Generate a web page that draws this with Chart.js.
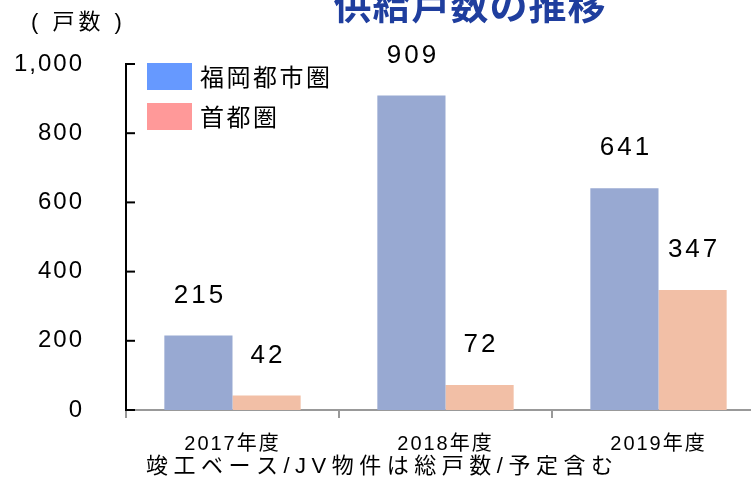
<!DOCTYPE html>
<html>
<head>
<meta charset="utf-8">
<script src="https://cdn.jsdelivr.net/npm/chart.js@4"></script>
<style>
  html, body { margin: 0; padding: 0; background: #fff; overflow: hidden; }
  #wrap { width: 770px; height: 479px; }
</style>
</head>
<body>
<div id="wrap"><canvas id="chart" width="770" height="479"></canvas></div>
<script>
// ---- data ----
var CATEGORIES = ["2017年度", "2018年度", "2019年度"];
var SERIES_NAMES = ["福岡都市圏", "首都圏"];
var FUKUOKA = [215, 909, 641];
var SHUTOKEN = [42, 72, 347];
var Y_TICKS = [0, 200, 400, 600, 800, 1000];

var TITLE = "供給戸数の推移";
var UNIT = "( 戸数 )";
var NOTE = "竣工ベース/JV物件は総戸数/予定含む";

// ---- colors ----
var BAR_COLORS = ["#98A9D2", "#F2BFA6"];
var LEGEND_COLORS = ["#6699FF", "#FF9999"];

var SANS = "'Liberation Sans', 'Noto Sans CJK JP', sans-serif";
var CJK = "'Noto Sans CJK JP', 'Liberation Sans', sans-serif";

function drawText(ctx, txt, x, y, font, color, align, spacing) {
  ctx.save();
  ctx.font = font;
  ctx.fillStyle = color;
  ctx.textAlign = align || "left";
  ctx.textBaseline = "middle";
  ctx.letterSpacing = (spacing || 0) + "px";
  ctx.fillText(txt, x, y);
  ctx.restore();
}

var decorPlugin = {
  id: "decor",
  beforeDraw: function(chart) {
    // scale tick labels are slightly spaced in the reference
    chart.ctx.letterSpacing = "2px";
  },
  beforeDatasetsDraw: function(chart) {
    chart.ctx.letterSpacing = "0px";
  },
  afterDatasetsDraw: function(chart) {
    var ctx = chart.ctx;
    // value labels above the bars
    chart.data.datasets.forEach(function(ds, di) {
      var meta = chart.getDatasetMeta(di);
      meta.data.forEach(function(bar, i) {
        drawText(ctx, String(ds.data[i]), bar.x + 1.5, bar.y - 40,
          "26px " + SANS, "#000", "center", 3);
      });
    });
  },
  afterDraw: function(chart) {
    var ctx = chart.ctx;
    var y = chart.scales.y;
    var area = chart.chartArea;

    // inward tick marks on the y axis
    ctx.save();
    ctx.strokeStyle = "#000";
    ctx.lineWidth = 2;
    Y_TICKS.forEach(function(v) {
      var py = y.getPixelForValue(v);
      ctx.beginPath();
      ctx.moveTo(area.left, py);
      ctx.lineTo(area.left + 9, py);
      ctx.stroke();
    });
    ctx.restore();

    // legend
    SERIES_NAMES.forEach(function(name, i) {
      var top = 63 + i * 40;
      ctx.fillStyle = LEGEND_COLORS[i];
      ctx.fillRect(147, top, 45, 27);
      drawText(ctx, name, 200, top + 14, "24px " + CJK, "#000", "left", 2.5);
    });

    // title, unit, note
    ctx.save();
    ctx.font = "bold 38px " + CJK;
    ctx.fillStyle = "#1F3E9E";
    ctx.textAlign = "center";
    ctx.textBaseline = "alphabetic";
    ctx.letterSpacing = "1px";
    ctx.fillText(TITLE, 470, 19);
    ctx.restore();

    drawText(ctx, UNIT, 31, 23, "22px " + SANS, "#000", "left", 4);
    drawText(ctx, NOTE, 146, 467, "22px " + SANS, "#000", "left", 5.5);
  }
};

new Chart(document.getElementById("chart"), {
  type: "bar",
  data: {
    labels: CATEGORIES,
    datasets: [
      { label: SERIES_NAMES[0], data: FUKUOKA, backgroundColor: BAR_COLORS[0] },
      { label: SERIES_NAMES[1], data: SHUTOKEN, backgroundColor: BAR_COLORS[1] },
    ],
  },
  options: {
    responsive: false,
    animation: false,
    events: [],
    barPercentage: 1,
    categoryPercentage: 0.64,
    layout: { padding: { left: 0, top: 64, right: 5, bottom: 0 } },
    plugins: {
      legend:  { display: false },
      tooltip: { enabled: false },
    },
    scales: {
      x: {
        afterFit: function(s) { s.height = 69; },
        grid: {
          display: true, drawOnChartArea: false, drawTicks: true,
          tickLength: 8, color: "#999", lineWidth: 2, offset: true,
        },
        border: { display: true, color: "#999", width: 2 },
        ticks: { color: "#000", font: { family: SANS, size: 20 }, padding: 14 },
      },
      y: {
        min: 0,
        max: 1000,
        afterFit: function(s) { s.width = 126; },
        afterBuildTicks: function(s) {
          s.ticks = Y_TICKS.map(function(v) { return { value: v }; });
        },
        grid: { display: false, drawTicks: false },
        border: { display: true, color: "#000", width: 2 },
        ticks: { color: "#000", font: { family: SANS, size: 24 }, padding: 42 },
      },
    },
  },
  plugins: [decorPlugin],
});
</script>
</body>
</html>
